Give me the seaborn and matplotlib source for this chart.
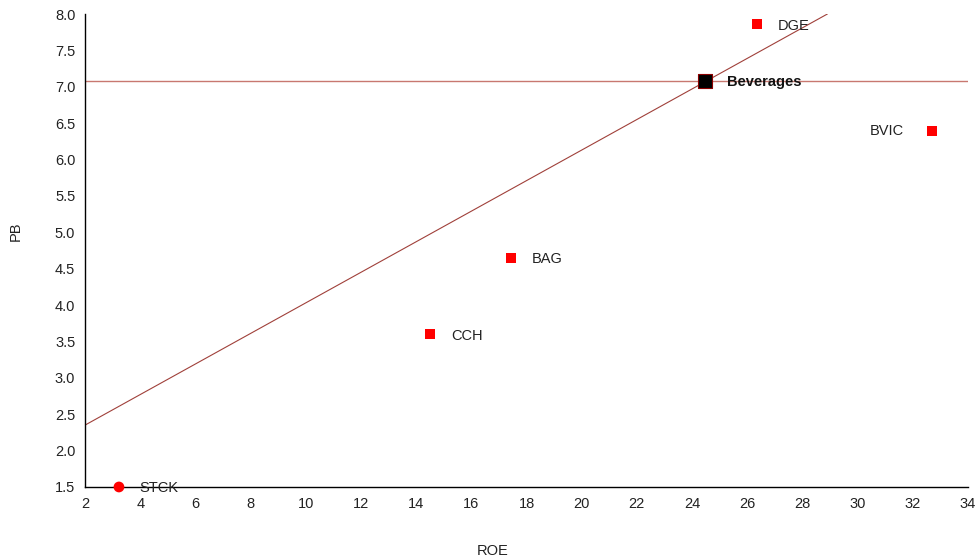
import matplotlib
matplotlib.use("Agg")
import matplotlib.pyplot as plt
import seaborn as sns
import pandas as pd

companies = ["CCH", "BAG", "DGE", "BVIC"]
comp_roe = [14.5, 17.43, 26.35, 32.69]
comp_pb = [3.60, 4.65, 7.86, 6.39]

stck_name = ["STCK"]
stck_roe = [3.23]
stck_pb = [1.50]

sector_name = ["Beverages"]
sector_roe = [24.46]
sector_pb = [7.08]

trend_intercept = 1.93
trend_slope = 0.21

x_ticks = list(range(2, 35, 2))
y_ticks = [1.5, 2.0, 2.5, 3.0, 3.5, 4.0, 4.5, 5.0, 5.5, 6.0, 6.5, 7.0, 7.5, 8.0]

sns.set_theme(style="white")
plt.rcParams["font.family"] = ["Liberation Sans", "DejaVu Sans"]

fig = plt.figure(figsize=(9.75, 5.6), dpi=100)
ax = fig.add_axes([0.0872, 0.1304, 0.9056, 0.8446])

line_color = "#A0403A"
ax.axhline(sector_pb[0], color="#C87870", lw=1.0, zorder=1)
ax.axline((0, trend_intercept), slope=trend_slope, color=line_color, lw=0.8, zorder=1)

df_c = pd.DataFrame({"ROE": comp_roe, "PB": comp_pb, "name": companies})
sns.scatterplot(data=df_c, x="ROE", y="PB", marker="s", s=55, color="#FF0000",
                edgecolor="none", ax=ax, zorder=3, clip_on=False)
df_s = pd.DataFrame({"ROE": stck_roe, "PB": stck_pb})
sns.scatterplot(data=df_s, x="ROE", y="PB", marker="o", s=60, color="#FF0000",
                edgecolor="none", ax=ax, zorder=4, clip_on=False)
df_b = pd.DataFrame({"ROE": sector_roe, "PB": sector_pb})
sns.scatterplot(data=df_b, x="ROE", y="PB", marker="s", s=110, color="black",
                edgecolor="#8B0000", linewidth=0.8, ax=ax, zorder=4, clip_on=False)

for n, x, y in zip(companies, comp_roe, comp_pb):
    if n == "BVIC":
        ax.annotate(n, (x, y), xytext=(-20, 0), textcoords="offset points",
                    ha="right", va="center", fontsize=10.5, color="#222222")
    else:
        ax.annotate(n, (x, y), xytext=(15, -1), textcoords="offset points",
                    ha="left", va="center", fontsize=10.5, color="#222222")
ax.annotate(stck_name[0], (stck_roe[0], stck_pb[0]), xytext=(15, -1),
            textcoords="offset points", ha="left", va="center", fontsize=10.5, color="#222222")
ax.annotate(sector_name[0], (sector_roe[0], sector_pb[0]), xytext=(16, -1),
            textcoords="offset points", ha="left", va="center", fontsize=10.5,
            fontweight="bold", color="#111111")

ax.set_xlim(2, 34)
ax.set_ylim(1.5, 8.0)
ax.set_xticks(x_ticks)
ax.set_yticks(y_ticks)
ax.set_yticklabels([f"{v:.1f}" for v in y_ticks])
ax.tick_params(axis="both", direction="out", length=4, width=1, color="#999999",
               labelsize=10.5, labelcolor="#222222", pad=3)
for s in ["top", "right"]:
    ax.spines[s].set_visible(False)
for s in ["left", "bottom"]:
    ax.spines[s].set_color("black")
    ax.spines[s].set_linewidth(1.0)

ax.set_xlabel("ROE", fontsize=10.5, color="#222222")
ax.set_ylabel("PB", fontsize=10.5, color="#222222")
ax.xaxis.set_label_coords(0.462, -0.12)
ax.yaxis.set_label_coords(-0.070, 0.541)
ax.grid(False)

fig.savefig("out.png", dpi=100)
